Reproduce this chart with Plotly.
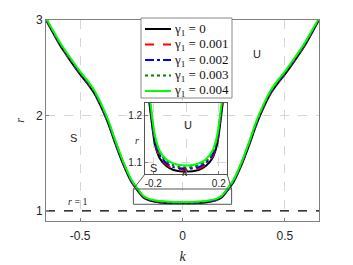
import plotly.graph_objects as go

# ---------------- data ----------------
k_vals = [-0.667, -0.6, -0.55, -0.5, -0.47, -0.435, -0.4, -0.36, -0.33, -0.29, -0.25, -0.22, -0.19, -0.16, -0.12,
          -0.08, -0.04, 0.0, 0.04, 0.08, 0.12, 0.16, 0.19, 0.22, 0.25, 0.29, 0.33, 0.36, 0.4, 0.435, 0.47, 0.5,
          0.55, 0.6, 0.667]

r_g0 = [3.000, 2.740, 2.580, 2.430, 2.350, 2.245, 2.100, 1.900, 1.715, 1.490, 1.305, 1.215, 1.138, 1.108, 1.092,
        1.084, 1.081, 1.080, 1.081, 1.084, 1.092, 1.108, 1.138, 1.215, 1.305, 1.490, 1.715, 1.900, 2.100, 2.245,
        2.350, 2.430, 2.580, 2.740, 3.000]
r_g1 = [3.005, 2.747, 2.587, 2.437, 2.357, 2.252, 2.107, 1.907, 1.722, 1.496, 1.310, 1.219, 1.142, 1.111, 1.095,
        1.087, 1.084, 1.083, 1.084, 1.087, 1.095, 1.111, 1.142, 1.219, 1.310, 1.496, 1.722, 1.907, 2.107, 2.252,
        2.357, 2.437, 2.587, 2.747, 3.005]
r_g2 = [3.010, 2.754, 2.594, 2.444, 2.364, 2.259, 2.115, 1.915, 1.730, 1.503, 1.316, 1.224, 1.146, 1.115, 1.098,
        1.090, 1.087, 1.086, 1.087, 1.090, 1.098, 1.115, 1.146, 1.224, 1.316, 1.503, 1.730, 1.915, 2.115, 2.259,
        2.364, 2.444, 2.594, 2.754, 3.010]
r_g3 = [3.015, 2.761, 2.601, 2.451, 2.372, 2.267, 2.124, 1.924, 1.739, 1.510, 1.322, 1.229, 1.151, 1.119, 1.102,
        1.094, 1.090, 1.089, 1.090, 1.094, 1.102, 1.119, 1.151, 1.229, 1.322, 1.510, 1.739, 1.924, 2.124, 2.267,
        2.372, 2.451, 2.601, 2.761, 3.015]
r_g4 = [3.020, 2.770, 2.610, 2.460, 2.381, 2.277, 2.135, 1.935, 1.750, 1.520, 1.330, 1.235, 1.157, 1.124, 1.106,
        1.098, 1.094, 1.093, 1.094, 1.098, 1.106, 1.124, 1.157, 1.235, 1.330, 1.520, 1.750, 1.935, 2.135, 2.277,
        2.381, 2.460, 2.610, 2.770, 3.020]

gamma_labels = ["0", "0.001", "0.002", "0.003", "0.004"]
series = [r_g0, r_g1, r_g2, r_g3, r_g4]

ref_k = [-0.667, 0.667]
ref_r = [1.0, 1.0]

x_ticks = [-0.5, 0, 0.5]
x_ticktext = ["-0.5", "0", "0.5"]
y_ticks = [1, 2, 3]
y_ticktext = ["1", "2", "3"]
inset_x_ticks = [-0.2, 0, 0.2]
inset_x_ticktext = ["-0.2", "", "0.2"]
inset_y_ticks = [1.1, 1.2]
inset_y_ticktext = ["1.1", "1.2"]

# ---------------- styles ----------------
colors = ["#000000", "#ff0000", "#0000ff", "#008000", "#00ff00"]
dashes = ["solid", "dash", "dashdot", "dot", "solid"]

W, H = 353, 265
ML, MR, MT, MB = 46, 34, 20, 44
PW, PH = W - ML - MR, H - MT - MB

X_RANGE = [-0.667, 0.667]
Y_RANGE = [0.895, 3.0]
IX_RANGE = [-0.25, 0.25]
IY_RANGE = [1.075, 1.226]
ZOOM_BOX = dict(x0=-0.24, x1=0.24, y0=1.07, y1=1.23)
INSET_DX = [0.363, 0.663]
INSET_DY = [0.234, 0.587]

SANS = "Liberation Sans, Arial, sans-serif"
SERIF = "Liberation Serif, DejaVu Serif, serif"
AXC = "#808080"
GRIDC = "#d6d6d6"


def px_x(px):
    return (px - ML) / PW


def px_y(py):
    return (H - MB - py) / PH


fig = go.Figure()

# r = 1 reference line
fig.add_trace(go.Scatter(x=ref_k, y=ref_r, mode="lines", showlegend=False,
                         line=dict(color="black", width=1.3, dash="dash"), xaxis="x", yaxis="y"))

for lab, r, c, d in zip(gamma_labels, series, colors, dashes):
    fig.add_trace(go.Scatter(x=k_vals, y=r, mode="lines", name=f"γ<sub>1</sub> = {lab}", showlegend=False,
                             line=dict(color=c, width=2, dash=d, shape="spline", smoothing=0.6),
                             xaxis="x", yaxis="y"))
for lab, r, c, d in zip(gamma_labels, series, colors, dashes):
    fig.add_trace(go.Scatter(x=k_vals, y=r, mode="lines", showlegend=False,
                             line=dict(color=c, width=2, dash=d, shape="spline", smoothing=0.6),
                             xaxis="x2", yaxis="y2"))

common_axis = dict(showline=True, mirror=True, linecolor=AXC, linewidth=1, ticks="inside",
                   ticklen=3, tickcolor=AXC, showgrid=True, gridcolor=GRIDC, griddash="dash",
                   gridwidth=1, zeroline=False)

fig.update_layout(
    width=W, height=H,
    margin=dict(l=ML, r=MR, t=MT, b=MB, autoexpand=False),
    paper_bgcolor="white", plot_bgcolor="white",
    showlegend=False,
    xaxis=dict(range=X_RANGE, tickvals=x_ticks, ticktext=x_ticktext, domain=[0, 1],
               tickfont=dict(family=SANS, size=12, color="#262626"), ticklabelstandoff=4,
               title=dict(text="<i>k</i>", font=dict(family=SERIF, size=14, color="#262626"), standoff=8),
               **common_axis),
    yaxis=dict(range=Y_RANGE, tickvals=y_ticks, ticktext=y_ticktext, domain=[0, 1],
               tickfont=dict(family=SANS, size=12, color="#262626"),
               title=dict(text="<i>r</i>", font=dict(family=SERIF, size=12, color="#262626"), standoff=8),
               **common_axis),
    xaxis2=dict(range=IX_RANGE, tickvals=inset_x_ticks, ticktext=inset_x_ticktext, domain=INSET_DX,
                anchor="y2", tickfont=dict(family=SANS, size=10, color="#262626"), **common_axis),
    yaxis2=dict(range=IY_RANGE, tickvals=inset_y_ticks, ticktext=inset_y_ticktext, domain=INSET_DY,
                anchor="x2", tickfont=dict(family=SANS, size=10, color="#262626"), **common_axis),
)
fig.update_layout(xaxis2_linecolor="#555555", yaxis2_linecolor="#555555")

# zoom rectangle on main axes
fig.add_shape(type="rect", xref="x", yref="y", line=dict(color="#555555", width=1), **ZOOM_BOX)


def to_paper_x(v):
    return (v - X_RANGE[0]) / (X_RANGE[1] - X_RANGE[0])


def to_paper_y(v):
    return (v - Y_RANGE[0]) / (Y_RANGE[1] - Y_RANGE[0])


for kx, ix in [(ZOOM_BOX["x0"], INSET_DX[0]), (ZOOM_BOX["x1"], INSET_DX[1])]:
    fig.add_shape(type="line", xref="paper", yref="paper",
                  x0=to_paper_x(kx), y0=to_paper_y(ZOOM_BOX["y1"]), x1=ix, y1=INSET_DY[0],
                  line=dict(color="#555555", width=1))

# ---------------- manual legend (compact, MATLAB-like) ----------------
LEG_L, LEG_R, LEG_T, LEG_B = 141, 232, 18, 98
fig.add_shape(type="rect", xref="paper", yref="paper", x0=px_x(LEG_L), x1=px_x(LEG_R),
              y0=px_y(LEG_B), y1=px_y(LEG_T), fillcolor="white", line=dict(color="#888888", width=1),
              layer="above")
for i, (lab, c, d) in enumerate(zip(gamma_labels, colors, dashes)):
    row = 29 + 15.5 * i
    fig.add_shape(type="line", xref="paper", yref="paper", x0=px_x(145), x1=px_x(171),
                  y0=px_y(row), y1=px_y(row), line=dict(color=c, width=2, dash=d), layer="above")
    fig.add_annotation(x=px_x(172), y=px_y(row), xref="paper", yref="paper", xanchor="left",
                       yanchor="middle", text=f"γ<sub>1</sub> = {lab}", showarrow=False,
                       font=dict(family=SERIF, size=13, color="#111111"))

ann_font = dict(family=SANS, size=11, color="#262626")
fig.add_annotation(x=0.364, y=2.64, xref="x", yref="y", text="U", showarrow=False, font=ann_font)
fig.add_annotation(x=-0.533, y=1.76, xref="x", yref="y", text="S", showarrow=False, font=ann_font)
fig.add_annotation(x=-0.51, y=1.095, xref="x", yref="y", text="<i>r</i> = 1", showarrow=False,
                   font=dict(family=SERIF, size=10, color="#262626"))
fig.add_annotation(x=0.01, y=1.179, xref="x2", yref="y2", text="U", showarrow=False, font=ann_font)
fig.add_annotation(x=-0.2, y=1.088, xref="x2", yref="y2", text="S", showarrow=False, font=ann_font)
# inset axis titles (placed in paper space, since they sit outside the inset ranges)
fig.add_annotation(x=px_x(185), y=px_y(181), xref="paper", yref="paper", text="<i>k</i>", showarrow=False,
                   font=dict(family=SERIF, size=12, color="#262626"))
fig.add_annotation(x=px_x(133), y=px_y(140), xref="paper", yref="paper", text="<i>r</i>", showarrow=False,
                   font=dict(family=SERIF, size=10, color="#262626"))

fig.write_html("out.html", post_script="document.body.style.margin='0';",
               config={"displayModeBar": False})
